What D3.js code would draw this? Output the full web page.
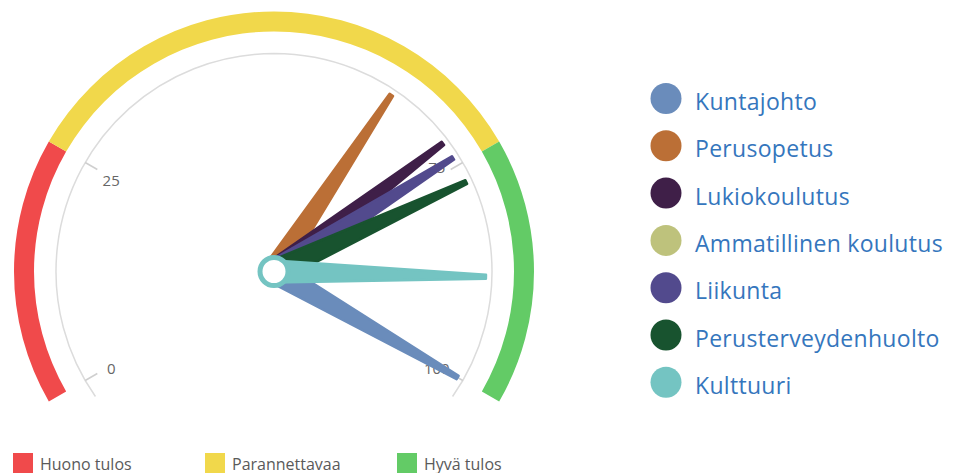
<!DOCTYPE html>
<html>
<head>
<meta charset="utf-8">
<script src="https://cdn.jsdelivr.net/npm/d3@7"></script>
<style>
	body { margin: 0; background: #fff; }
	svg { display: block; font-family: "Open Sans", sans-serif; }
</style>
</head>
<body>
<div class="chart"></div>
<script>
// DATA
var seriesNames = ["Kuntajohto", "Perusopetus", "Lukiokoulutus", "Ammatillinen koulutus", "Liikunta", "Perusterveydenhuolto", "Kulttuuri"];
var seriesValues = [100, 64, 72, null, 74, 77.1, 88.1];
var seriesColors = ["#6a8cbb", "#bb6f36", "#3f1f48", "#bec27c", "#524a8d", "#18532f", "#74c4c2"];

var bandNames = ["Huono tulos", "Parannettavaa", "Hyvä tulos"];
var bandFrom = [0, 25, 75];
var bandTo = [25, 75, 100];
var bandColors = ["#f04a4b", "#f1d84b", "#63cb66"];

var tickValues = [0, 25, 75, 100];

// LAYOUT
var width = 954, height = 473;
var center = { x: 274, y: 271.5 };

var svg = d3.select(".chart")
	.append("svg")
	.attr("width", width)
	.attr("height", height);

var angle = d3.scaleLinear()
	.domain([0, 100])
	.range([-120, 120]);

function rad(d) { return d * Math.PI / 180; }

var gauge = svg.append("g")
	.attr("transform", "translate(" + center.x + "," + center.y + ")");

// colour bands
var bandArc = d3.arc()
	.innerRadius(240)
	.outerRadius(260);

gauge.selectAll(".band")
	.data(bandFrom)
	.enter().append("path")
		.attr("class", "band")
		.attr("fill", function(d, i) { return bandColors[i]; })
		.attr("d", function(d, i) {
			return bandArc({ startAngle: rad(angle(d)), endAngle: rad(angle(bandTo[i])) });
		});

// inner grey line
var lineArc = d3.arc()
	.innerRadius(218)
	.outerRadius(218);

gauge.append("path")
	.attr("fill", "none")
	.attr("stroke", "#dcdcdc")
	.attr("stroke-width", 1.5)
	.attr("d", lineArc({ startAngle: rad(-125), endAngle: rad(125) }));

// ticks and labels
gauge.selectAll(".tick")
	.data(tickValues)
	.enter().append("line")
		.attr("class", "tick")
		.attr("stroke", "#cfcfcf")
		.attr("stroke-width", 1.5)
		.attr("x1", function(d) { return 218 * Math.sin(rad(angle(d))); })
		.attr("y1", function(d) { return -218 * Math.cos(rad(angle(d))); })
		.attr("x2", function(d) { return 204 * Math.sin(rad(angle(d))); })
		.attr("y2", function(d) { return -204 * Math.cos(rad(angle(d))); });

// labels sit a little off the radial line (upper right one is lifted, like the original)
function labelShift(d) {
	if (d == 75) return -10;
	if (d == 25) return 3.5;
	return 3;
}

gauge.selectAll(".tick-label")
	.data(tickValues)
	.enter().append("text")
		.attr("class", "tick-label")
		.attr("text-anchor", "middle")
		.attr("dy", "0.35em")
		.attr("fill", "#666")
		.style("font-size", "15px")
		.attr("x", function(d) { return 188 * Math.sin(rad(angle(d))); })
		.attr("y", function(d) { return -188 * Math.cos(rad(angle(d))) + labelShift(d); })
		.text(function(d) { return d; });

// needles
var baseWidth = 22, topWidth = 4, needleLen = 212;

var needleData = seriesValues.map(function(v, i) { return { value: v, color: seriesColors[i] }; })
	.filter(function(d) { return d.value != null; });

gauge.selectAll(".needle")
	.data(needleData)
	.enter().append("path")
		.attr("class", "needle")
		.attr("fill", function(d) { return d.color; })
		.attr("stroke", function(d) { return d.color; })
		.attr("stroke-width", 2.5)
		.attr("stroke-linejoin", "round")
		.attr("transform", function(d) { return "rotate(" + angle(d.value) + ")"; })
		.attr("d", "M" + (-baseWidth / 2) + ",0 L" + (-topWidth / 2) + "," + (-needleLen) +
			" L" + (topWidth / 2) + "," + (-needleLen) + " L" + (baseWidth / 2) + ",0 Z");

// pivot
gauge.append("circle")
	.attr("r", 14)
	.attr("fill", "#fff")
	.attr("stroke", seriesColors[seriesColors.length - 1])
	.attr("stroke-width", 5);

// series legend
var legend = svg.append("g")
	.attr("transform", "translate(666, 98.5)");

var item = legend.selectAll(".item")
	.data(seriesNames)
	.enter().append("g")
		.attr("class", "item")
		.attr("transform", function(d, i) { return "translate(0," + (i * 47.3) + ")"; });

item.append("circle")
	.attr("r", 15.5)
	.attr("fill", function(d, i) { return seriesColors[i]; });

item.append("text")
	.attr("x", 29)
	.attr("y", 11.5)
	.attr("fill", "#3576bd")
	.style("font-size", "23px")
	.style("letter-spacing", "0.3px")
	.text(function(d) { return d; });

// band legend
var bandX = [13, 205, 397];

var bandItem = svg.selectAll(".band-item")
	.data(bandNames)
	.enter().append("g")
		.attr("class", "band-item")
		.attr("transform", function(d, i) { return "translate(" + bandX[i] + ",453)"; });

bandItem.append("rect")
	.attr("width", 20)
	.attr("height", 20)
	.attr("fill", function(d, i) { return bandColors[i]; });

bandItem.append("text")
	.attr("x", 27)
	.attr("y", 16.5)
	.attr("fill", "#5a5a5a")
	.style("font-size", "16px")
	.text(function(d) { return d; });
</script>
</body>
</html>
